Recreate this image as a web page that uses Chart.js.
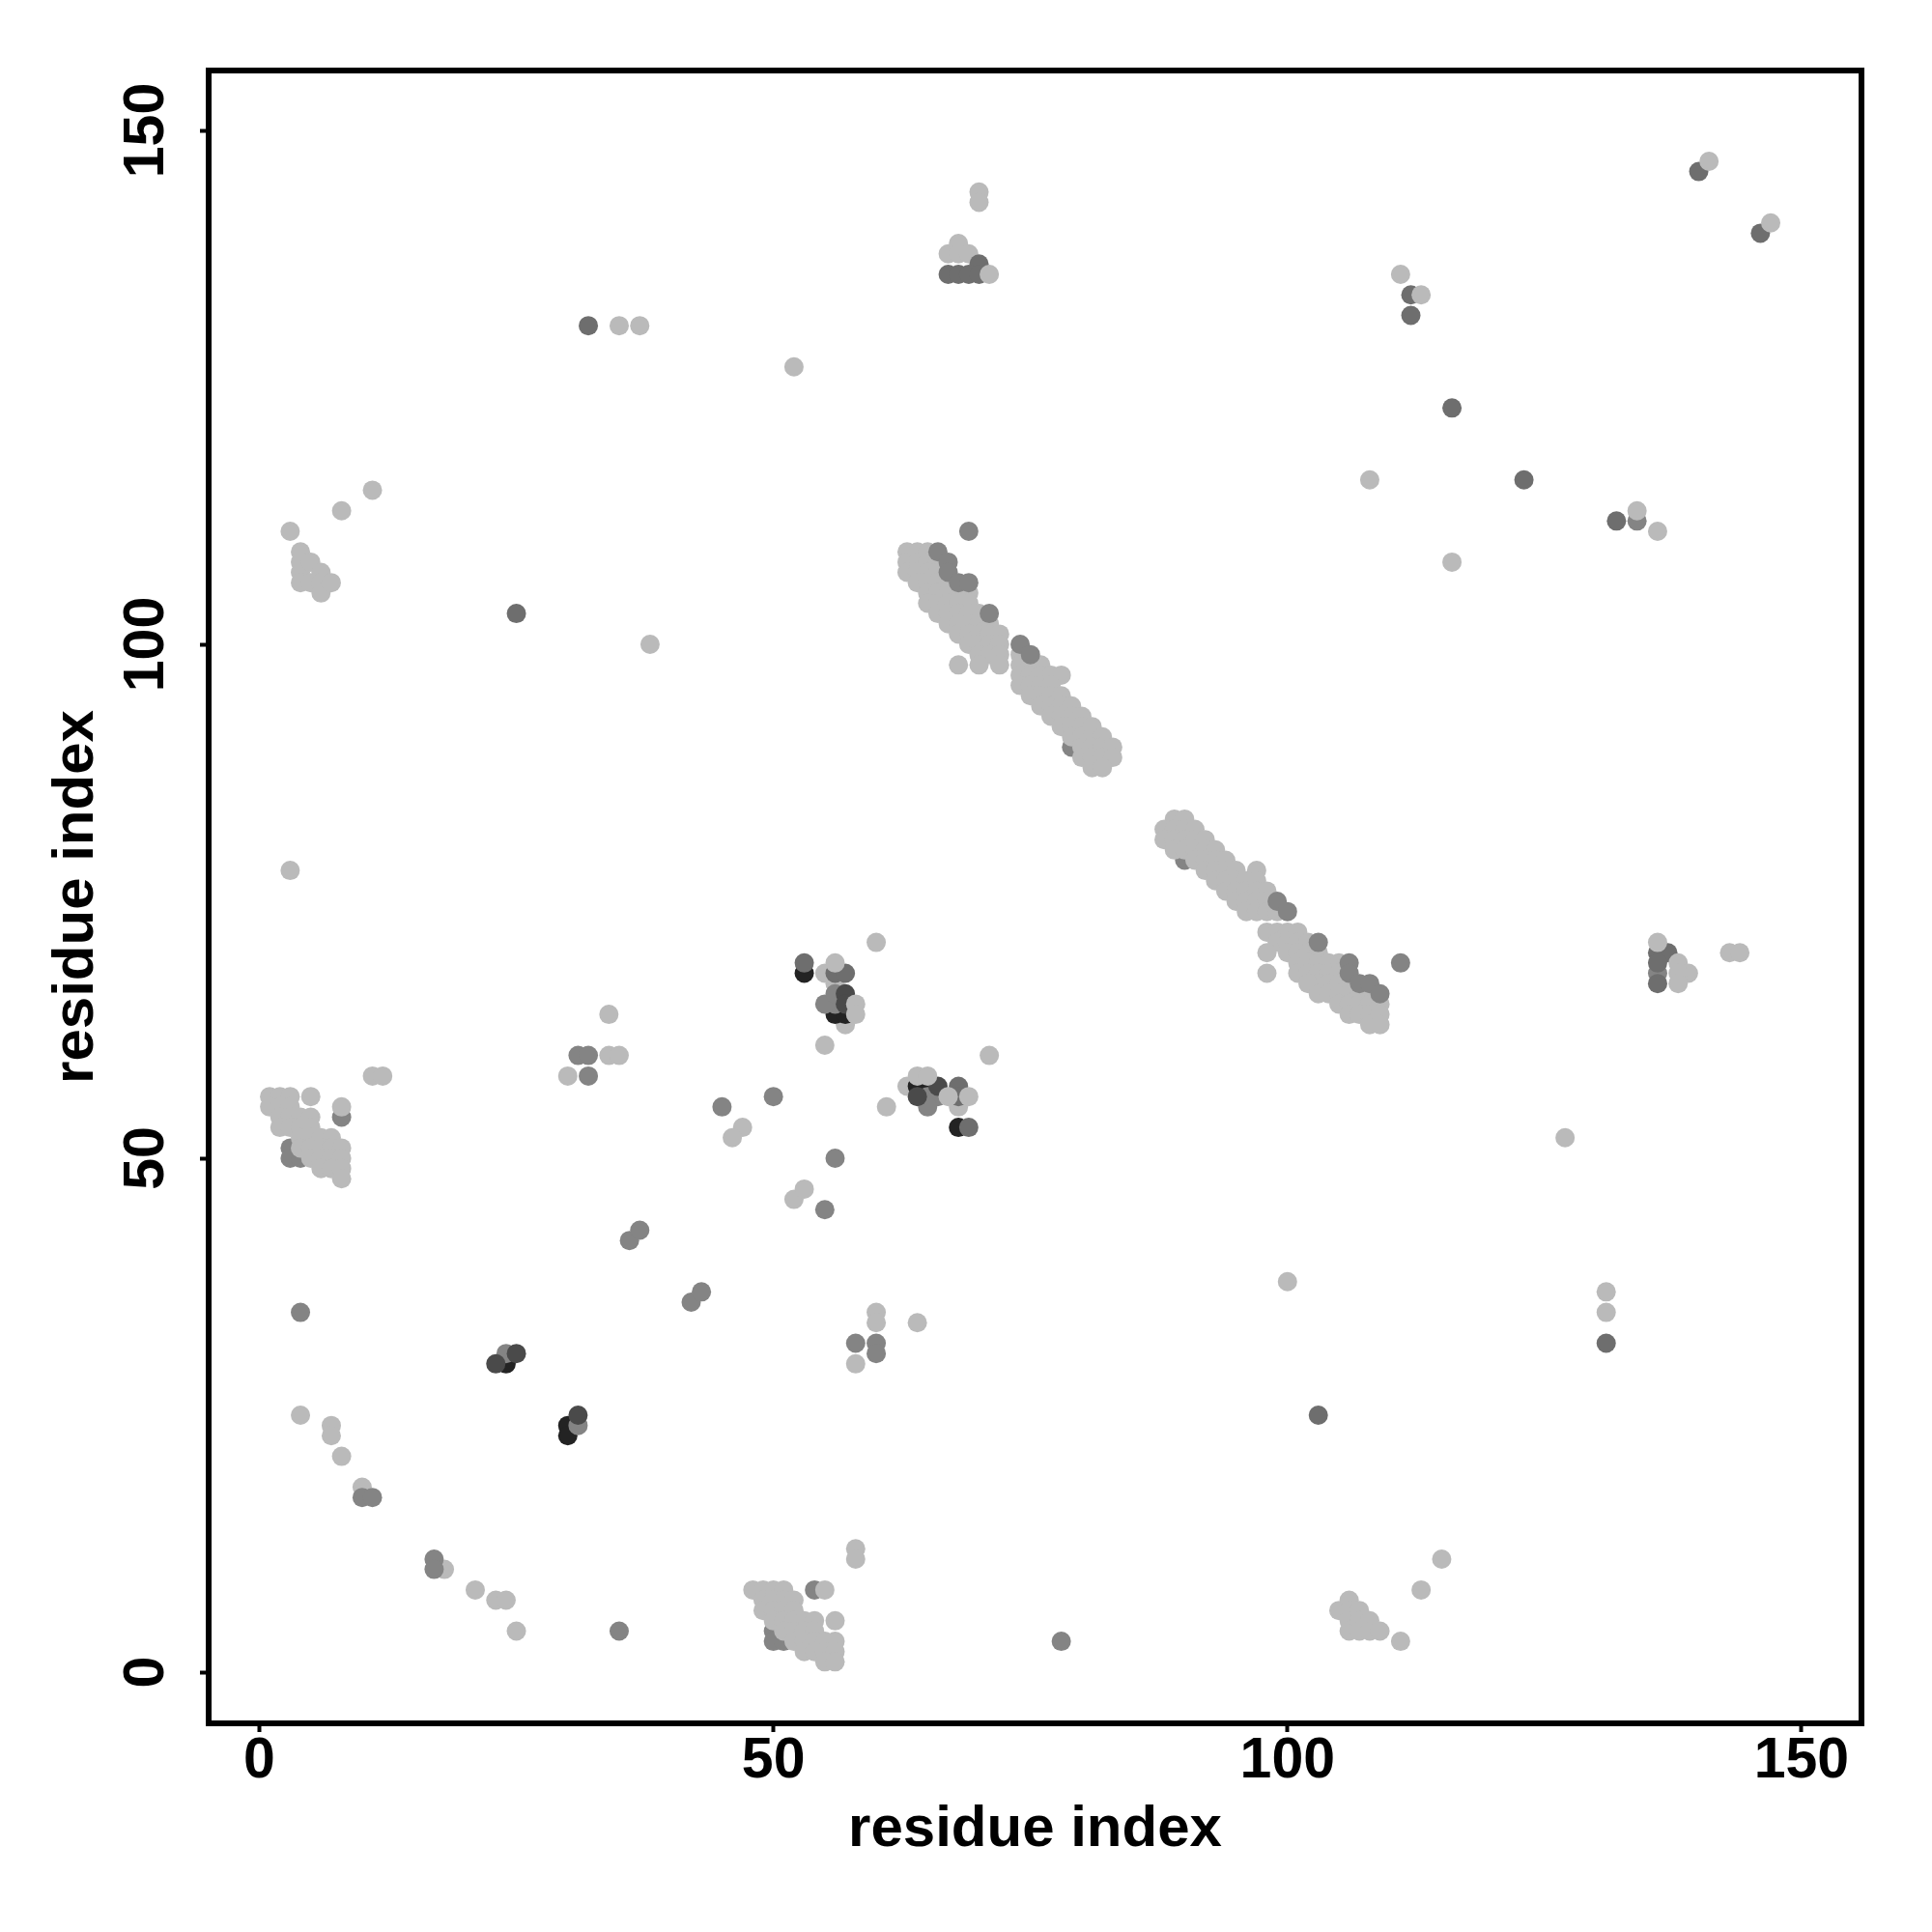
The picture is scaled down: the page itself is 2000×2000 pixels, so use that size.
<!DOCTYPE html>
<html>
<head>
<meta charset="utf-8">
<title>residue contacts</title>
<script src="https://cdn.jsdelivr.net/npm/chart.js@4"></script>
<style>
    body { margin: 0; background: #fff; }
    canvas { display: block; }
</style>
</head>
<body>
<canvas id="chart" width="2000" height="2000"></canvas>
<script>
const tickValues = [0, 50, 100, 150];
const axisTitle = "residue index";

// points that sit underneath the light clusters
const underPoints = [
    [79,90],[90,79],[3,51],[3,50],[4,50],[50,4],[50,3],[51,3],[8,54],[54,8]
];

// light grey, singles first and then the clusters row by row
const lightPoints = [
    [108,116],[116,108],[136,111],[111,136],[52,127],[35,131],[37,131],[70,144],[70,143],
    [67,138],[68,139],[68,138],[69,138],[11,115],[8,113],[3,111],[38,100],[3,78],
    [127,52],[100,38],[131,37],[131,35],[111,3],[115,11],[113,8],[58,12],[58,11],
    [25,4],[21,8],[23,7],[24,7],[18,10],[10,18],[8,21],[7,24],[7,23],[4,25],
    [58,30],[60,35],[60,34],[64,34],[52,46],[53,47],[47,53],[46,52],[61,55],
    [30,58],[34,60],[35,60],[34,64],[11,58],[12,58],[55,61],[60,71],[71,60],
    [55,68],[56,67],[57,63],[63,57],[68,55],[143,70],[144,70],
    [55,8],[56,5],
    // left upper cluster
    [4,109],[4,108],[4,107],[4,106],[5,108],[5,106],[6,107],[6,106],[6,105],[7,106],
    // first long band
    [63,109],[64,109],[65,109],
    [63,108],[64,108],[65,108],[66,108],
    [63,107],[64,107],[65,107],[66,107],
    [64,106],[65,106],[66,106],[67,106],
    [65,105],[66,105],[67,105],[68,105],[69,105],
    [65,104],[66,104],[67,104],[68,104],[69,104],
    [66,103],[67,103],[68,103],[69,103],[70,103],
    [67,102],[68,102],[69,102],[70,102],[71,102],
    [68,101],[69,101],[70,101],[71,101],[72,101],
    [69,100],[70,100],[71,100],[72,100],
    [70,99],[71,99],[72,99],
    [68,98],[70,98],[72,98],
    // second band
    [74,99],
    [74,98],[75,98],[76,98],
    [74,97],[75,97],[76,97],[77,97],[78,97],
    [74,96],[75,96],[76,96],[77,96],
    [75,95],[76,95],[77,95],[78,95],
    [76,94],[77,94],[78,94],[79,94],
    [77,93],[78,93],[79,93],[80,93],
    [78,92],[79,92],[80,92],[81,92],
    [79,91],[80,91],[81,91],[82,91],
    [80,90],[81,90],[82,90],[83,90],
    [80,89],[81,89],[82,89],[83,89],
    [81,88],[82,88],
    // third band
    [89,83],[90,83],
    [88,82],[89,82],[90,82],[91,82],
    [88,81],[89,81],[90,81],[91,81],[92,81],
    [89,80],[90,80],[91,80],[92,80],[93,80],
    [91,79],[92,79],[93,79],[94,79],
    [92,78],[93,78],[94,78],[95,78],[97,78],
    [93,77],[94,77],[95,77],[96,77],[97,77],
    [94,76],[95,76],[96,76],[97,76],[98,76],
    [95,75],[96,75],[97,75],[98,75],
    [96,74],[97,74],[98,74],[99,74],
    // fourth band
    [98,72],[99,72],[100,72],[101,72],
    [99,71],[100,71],[101,71],[102,71],
    [98,70],[100,70],[101,70],[102,70],[103,70],
    [101,69],[102,69],[103,69],[104,69],[105,69],
    [98,68],[101,68],[102,68],[103,68],[104,68],[105,68],
    [103,67],[104,67],[105,67],[106,67],[102,67],
    [103,66],[104,66],[105,66],[106,66],[107,66],[108,66],
    [105,65],[106,65],[107,65],[108,65],[109,65],
    [106,64],[107,64],[108,64],[109,64],
    [108,63],[109,63],
    // bottom right cluster
    [105,6],[106,7],[106,6],[106,5],[106,4],[107,6],[107,5],[107,4],[108,5],[108,4],[109,4],
    // bottom middle cluster
    [48,8],[49,8],[50,8],[51,8],
    [49,7],[50,7],[51,7],[52,7],
    [49,6],[50,6],[51,6],[52,6],
    [50,5],[51,5],[52,5],[53,5],[54,5],
    [51,4],[52,4],[53,4],[54,4],
    [52,3],[53,3],[54,3],[55,3],[56,3],
    [53,2],[54,2],[55,2],[56,2],
    [55,1],[56,1],
    // left middle cluster
    [1,56],[2,56],[3,56],[5,56],[8,55],
    [1,55],[2,55],[3,55],
    [2,54],[3,54],[4,54],[5,54],
    [2,53],[3,53],[4,53],[5,53],
    [4,52],[5,52],[6,52],[7,52],
    [4,51],[5,51],[6,51],[7,51],[8,51],
    [5,50],[6,50],[7,50],[8,50],
    [6,49],[7,49],[8,49],
    [8,48]
];

const blackPoints = [
    [53,68],[56,64],[57,64],[64,57],[65,57],[68,53],[24,30],[30,24],[30,23]
];

const midPoints = [
    [69,111],[66,109],[67,108],[67,107],[68,106],[69,106],[71,103],[74,100],[75,99],
    [99,75],[100,74],[103,71],[106,69],[106,68],[107,67],[108,67],[109,66],[111,69],
    [78,3],[35,4],[17,11],[17,10],[10,17],[11,17],[4,35],[24,31],[31,24],
    [36,42],[37,43],[42,36],[43,37],[58,32],[60,32],[60,31],[55,45],[56,50],[45,55],
    [50,56],[31,60],[32,60],[32,58],[56,65],[55,65],[56,66],[65,56],[66,56],[65,55],
    [136,68],[134,112]
];

const darkPoints = [
    [140,146],[146,140],[112,134],[112,132],[116,123],[123,116],[132,112],[32,131],
    [25,103],[70,137],[67,136],[68,136],[69,136],[70,136],[103,25],[131,32],
    [53,69],[56,68],[57,68],[68,57],[68,56],[69,53],[136,70],[137,70],[136,69],[136,67]
];

const darkerPoints = [
    [57,66],[57,65],[66,57],[64,56],[23,30],[25,31],[31,25]
];

// light points that cover the dark ones next to them
const lightTopPoints = [
    [58,65],[58,64],[56,69],[64,58],[65,58],[67,56],[69,56],[71,136],[113,134],[134,113],
    [141,147],[147,141],[136,71],[138,69],[139,68],[138,68],[138,67]
];

const layers = [
    { points: underPoints, color: "#848484" },
    { points: lightPoints, color: "#bababa" },
    { points: blackPoints, color: "#232323" },
    { points: midPoints, color: "#848484" },
    { points: darkPoints, color: "#6e6e6e" },
    { points: darkerPoints, color: "#4a4a4a" },
    { points: lightTopPoints, color: "#bababa" },
];

// R style box around the plot
const framePlugin = {
    id: "frame",
    afterDraw(chart) {
        const { ctx, chartArea: a } = chart;
        ctx.save();
        ctx.strokeStyle = "#000";
        ctx.lineWidth = 6;
        ctx.strokeRect(a.left, a.top, a.right - a.left, a.bottom - a.top);
        ctx.restore();
    }
};

const labelFont = { family: "'Liberation Sans', Arial, sans-serif", size: 59, weight: "bold" };
const titleFont = { family: "'Liberation Sans', Arial, sans-serif", size: 60, weight: "bold", lineHeight: 1 };

const setTicks = scale => {
    scale.ticks = tickValues.map(value => ({ value }));
};

new Chart(document.getElementById("chart"), {
    type: "scatter",
    data: {
        // chart.js paints the first dataset last, so flip the layers
        datasets: layers.slice().reverse().map(layer => ({
            data: layer.points.map(([x, y]) => ({ x, y })),
            backgroundColor: layer.color,
            borderWidth: 0,
            pointRadius: 10,
            pointHoverRadius: 10,
        })),
    },
    options: {
        responsive: false,
        animation: false,
        layout: { padding: { top: 73, right: 73 } },
        plugins: { legend: { display: false }, tooltip: { enabled: false } },
        scales: {
            x: {
                type: "linear",
                min: -4.93,
                max: 155.83,
                afterBuildTicks: setTicks,
                afterFit: scale => { scale.height = 216; },
                border: { display: false },
                grid: { drawOnChartArea: false, tickLength: 9, tickWidth: 4, tickColor: "#000" },
                ticks: { color: "#000", font: labelFont, padding: -5, maxRotation: 0 },
                title: { display: true, text: axisTitle, color: "#000", font: titleFont, padding: { top: 0, bottom: 76 } },
            },
            y: {
                type: "linear",
                min: -4.98,
                max: 155.83,
                afterBuildTicks: setTicks,
                afterFit: scale => { scale.width = 216; },
                border: { display: false },
                grid: { drawOnChartArea: false, tickLength: 9, tickWidth: 4, tickColor: "#000" },
                ticks: { color: "#000", font: labelFont, padding: 5, minRotation: 90, maxRotation: 90, crossAlign: "center" },
                title: { display: true, text: axisTitle, color: "#000", font: titleFont, padding: { top: 49, bottom: 0 } },
            },
        },
    },
    plugins: [framePlugin],
});
</script>
</body>
</html>
